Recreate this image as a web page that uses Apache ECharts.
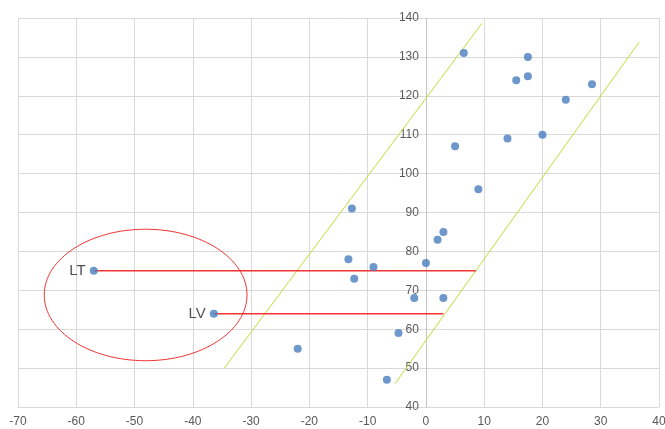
<!DOCTYPE html>
<html>
<head>
<meta charset="utf-8">
<script src="https://cdn.jsdelivr.net/npm/echarts@6/dist/echarts.min.js"></script>
<style>
  html, body { margin: 0; padding: 0; background: #fff; }
  #chart { width: 665px; height: 429px; }
</style>
</head>
<body>
<div id="chart"></div>
<script>
// 散点数据 (x, y)
let pointsX = [6.5, 17.5, 15.5, 17.5, 28.5, 24, 5, 14, 20, 9, -12.7, 3, 2, -13.3, 0, -9, -12.3, -2, 3, -4.7, -6.7, -22]
let pointsY = [131, 130, 124, 125, 123, 119, 107, 109, 110, 96, 91, 85, 83, 78, 77, 76, 73, 68, 68, 59, 47, 55]

// 标注点 LT / LV
let markNames = ['LT', 'LV']
let markX = [-57, -36.4]
let markY = [75, 64]
// 红色水平线终点
let markLineEndX = [8.6, 3]

// 两条斜线 [x1, y1, x2, y2]
let bandLeft = [-34.6, 50, 9.6, 138.6]
let bandRight = [-5.3, 46, 36.6, 133.8]

// 红色椭圆 [cx, cy, rx, ry] (数据坐标)
let ellipseData = [-48.1, 68.8, 17.4, 16.9]

let xTicks = { min: -70, max: 40, interval: 10 }
let yTicks = { min: 40, max: 140, interval: 10 }

let blue = '#4a7dbf'
let red = '#f03434'
let green = '#bde03a'
let gridLeft = 18

let chart = echarts.init(document.getElementById('chart'))

let scatterData = pointsX.map(function (x, i) { return [x, pointsY[i]] })
let markData = markX.map(function (x, i) { return { name: markNames[i], value: [x, markY[i]] } })

// x=0 处的竖线稍深
let xSplitColors = []
for (let v = xTicks.min; v <= xTicks.max; v += xTicks.interval) {
  xSplitColors.push(v === 0 ? '#c4c4c4' : '#d9d9d9')
}

let series = [
  {
    type: 'line',
    data: [[bandLeft[0], bandLeft[1]], [bandLeft[2], bandLeft[3]]],
    symbol: 'none',
    lineStyle: { color: green, width: 1 },
    silent: true,
    z: 2
  },
  {
    type: 'line',
    data: [[bandRight[0], bandRight[1]], [bandRight[2], bandRight[3]]],
    symbol: 'none',
    lineStyle: { color: green, width: 1 },
    silent: true,
    z: 2
  }
]
markX.forEach(function (x, i) {
  series.push({
    type: 'line',
    data: [[x, markY[i]], [markLineEndX[i], markY[i]]],
    symbol: 'none',
    lineStyle: { color: red, width: 1.5 },
    silent: true,
    z: 3
  })
})
series.push({
  type: 'scatter',
  data: scatterData,
  symbolSize: 8,
  itemStyle: { color: blue },
  z: 5
})
series.push({
  type: 'scatter',
  data: markData,
  symbolSize: 8,
  itemStyle: { color: blue },
  label: {
    show: true,
    position: 'left',
    distance: 4,
    formatter: '{b}',
    color: '#262626',
    fontSize: 15,
    fontFamily: 'Liberation Sans'
  },
  z: 5
})

let option = {
  animation: false,
  backgroundColor: '#fff',
  grid: { left: gridLeft, right: 6, top: 18, bottom: 22, containLabel: false, outerBoundsMode: 'none' },
  xAxis: {
    type: 'value',
    min: xTicks.min,
    max: xTicks.max,
    interval: xTicks.interval,
    axisLine: { show: true, onZero: false, lineStyle: { color: '#d9d9d9' } },
    axisTick: { show: false },
    axisLabel: { color: '#595959', fontSize: 12, fontFamily: 'Liberation Sans', margin: 9 },
    splitLine: { show: true, lineStyle: { color: xSplitColors, width: 1 } }
  },
  yAxis: {
    type: 'value',
    min: yTicks.min,
    max: yTicks.max,
    interval: yTicks.interval,
    axisLine: { show: false },
    axisTick: { show: false },
    axisLabel: { color: '#595959', fontSize: 12, fontFamily: 'Liberation Sans', margin: 7 },
    splitLine: { show: true, lineStyle: { color: '#d9d9d9', width: 1 } }
  },
  series: series
}
chart.setOption(option)

// y 轴标签放到 x=0 处
let zeroPx = chart.convertToPixel({ gridIndex: 0 }, [0, yTicks.min])[0]
chart.setOption({ yAxis: { axisLabel: { margin: 7 - (zeroPx - gridLeft) } } })

// 椭圆按数据坐标换算成像素
let c = chart.convertToPixel({ gridIndex: 0 }, [ellipseData[0], ellipseData[1]])
let e = chart.convertToPixel({ gridIndex: 0 }, [ellipseData[0] + ellipseData[2], ellipseData[1] + ellipseData[3]])
chart.setOption({
  graphic: [{
    type: 'ellipse',
    shape: { cx: c[0], cy: c[1], rx: Math.abs(e[0] - c[0]), ry: Math.abs(e[1] - c[1]) },
    style: { fill: 'none', stroke: red, lineWidth: 1 },
    silent: true,
    z: 10
  }]
})
</script>
</body>
</html>
